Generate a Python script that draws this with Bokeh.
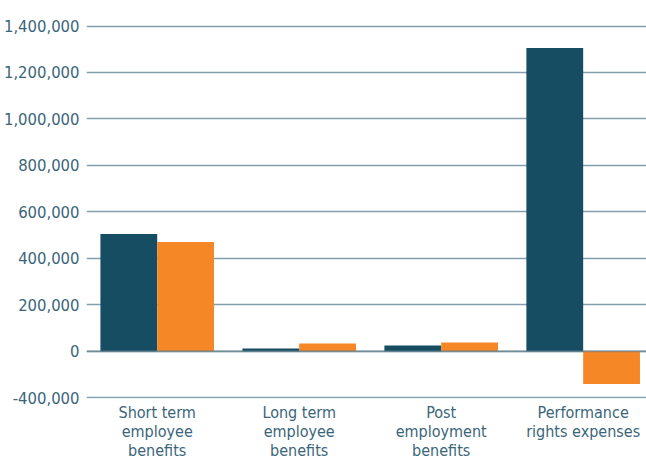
from bokeh.plotting import figure
from bokeh.models import Range1d, FixedTicker, Span
from bokeh.embed import file_html
from bokeh.resources import INLINE

# Employee benefit categories (shown as multi-line labels under the bars)
categories = [
    "Short term\nemployee\nbenefits",
    "Long term\nemployee\nbenefits",
    "Post\nemployment\nbenefits",
    "Performance\nrights expenses",
]
# Two series per category
series_1 = [505000, 12000, 25000, 1306000]
series_2 = [470000, 33000, 37000, -141000]

# Value-axis ticks and their printed labels
y_ticks = [-200000, 0, 200000, 400000, 600000, 800000, 1000000, 1200000, 1400000]
y_tick_labels = ["-400,000", "0", "200,000", "400,000", "600,000", "800,000",
                 "1,000,000", "1,200,000", "1,400,000"]

DARK = "#164d62"
ORANGE = "#f58727"
TEXT = "#3a6579"
GRID = "#839fab"
FONT = "DejaVu Sans Condensed, Roboto, sans-serif"

W, H = 646, 463
LEFT, BOTTOM = 84, 65
Y_START, Y_END = -203700, 1510000
X_START, X_END = -0.498, 3.446

p = figure(width=W, height=H, output_backend="svg", toolbar_location=None,
           x_range=Range1d(X_START, X_END), y_range=Range1d(Y_START, Y_END),
           min_border_left=LEFT, min_border_right=0, min_border_top=0,
           min_border_bottom=BOTTOM)
p.outline_line_color = None
p.background_fill_color = "white"
p.border_fill_color = "white"

# horizontal grid at the fixed tick positions
p.xgrid.visible = False
p.ygrid.ticker = FixedTicker(ticks=y_ticks)
p.ygrid.grid_line_color = GRID
p.ygrid.grid_line_width = 1.7

# value axis: labels only
p.yaxis.ticker = FixedTicker(ticks=y_ticks)
p.yaxis.major_label_overrides = {t: s for t, s in zip(y_ticks, y_tick_labels)}
p.yaxis.axis_line_color = None
p.yaxis.major_tick_line_color = None
p.yaxis.minor_tick_line_color = None
p.yaxis.major_tick_out = 0
p.yaxis.major_label_standoff = 7
p.yaxis.major_label_text_font = FONT
p.yaxis.major_label_text_font_size = "16.5px"
p.yaxis.major_label_text_color = TEXT

# category axis: multi-line labels at each group centre
xs = list(range(len(categories)))
p.xaxis.ticker = FixedTicker(ticks=xs)
p.xaxis.major_label_overrides = {x: c for x, c in zip(xs, categories)}
p.xaxis.axis_line_color = None
p.xaxis.major_tick_line_color = None
p.xaxis.minor_tick_line_color = None
p.xaxis.major_tick_out = 0
p.xaxis.major_label_standoff = 4
p.xaxis.major_label_text_font = FONT
p.xaxis.major_label_text_font_size = "16px"
p.xaxis.major_label_text_color = TEXT
p.xaxis.major_label_text_line_height = 1.0

bw = 0.4
p.vbar(x=[x - bw / 2 for x in xs], width=bw, top=series_1, bottom=0,
       fill_color=DARK, line_color=None)
p.vbar(x=[x + bw / 2 for x in xs], width=bw, top=series_2, bottom=0,
       fill_color=ORANGE, line_color=None)

# zero line drawn over the bars
p.add_layout(Span(location=0, dimension="width", line_color="#5d7d8a",
                  line_alpha=0.55, line_width=2, level="overlay"))

open("out.html", "w").write(file_html(p, INLINE))
